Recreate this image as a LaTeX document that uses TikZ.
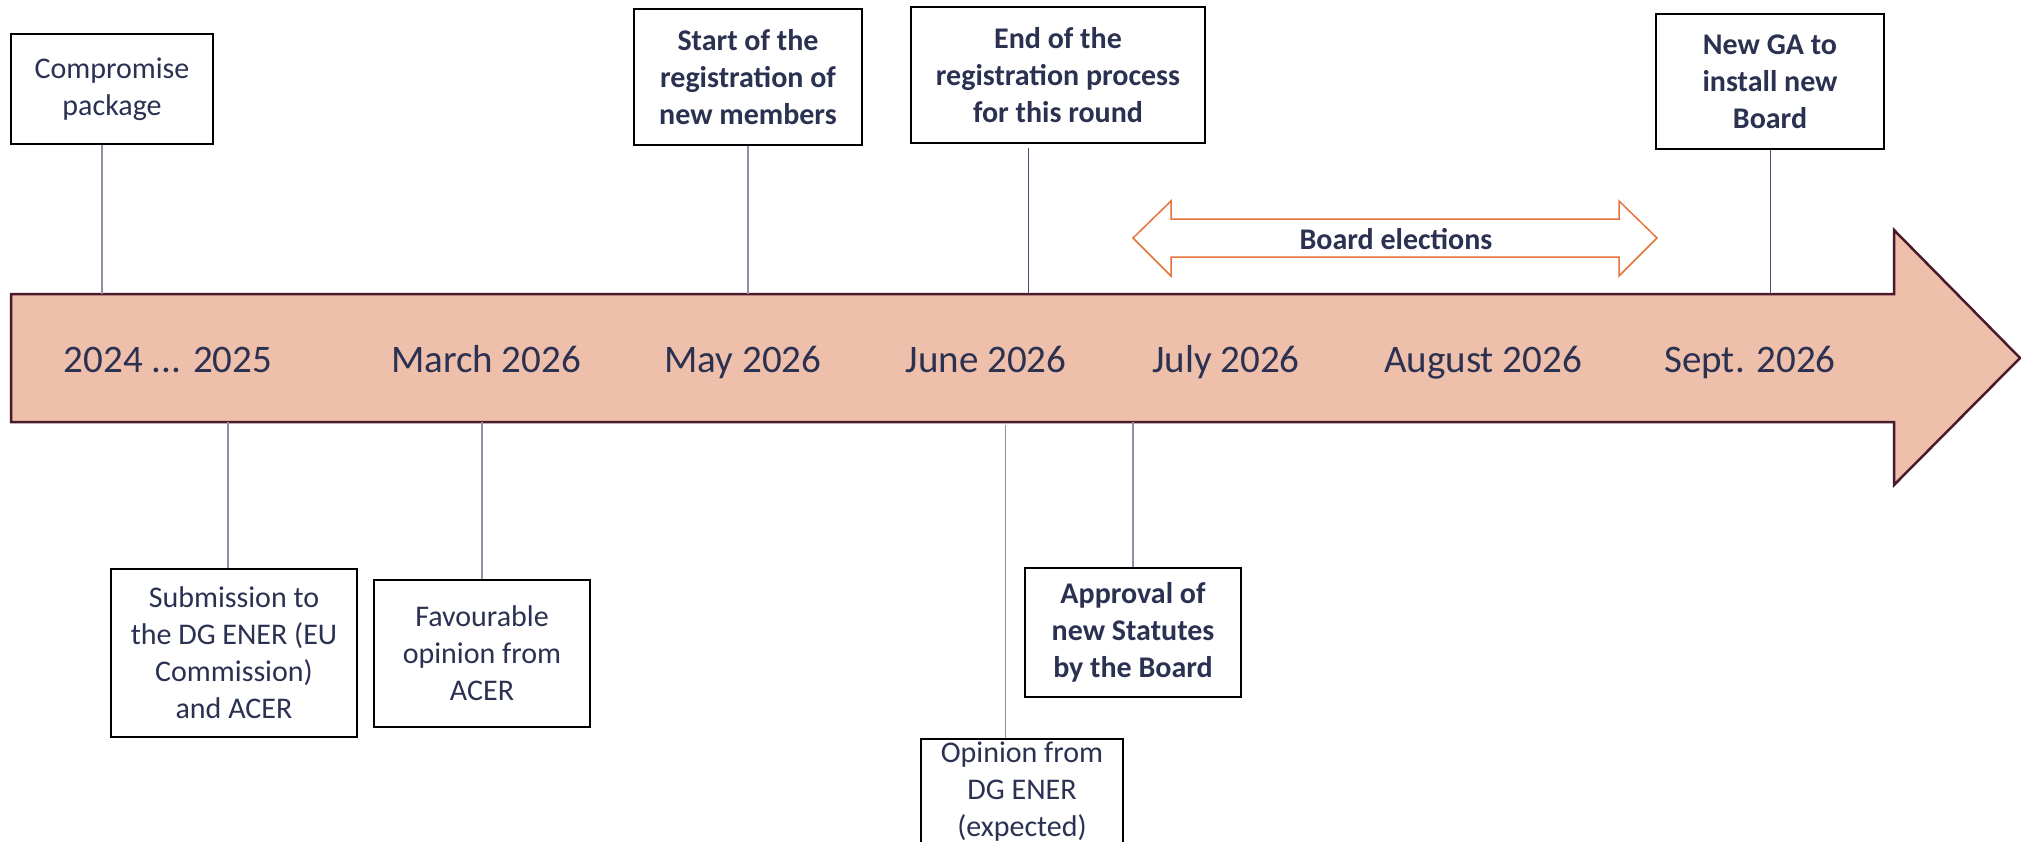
\documentclass[tikz,border=0pt]{standalone}
\usepackage{fontspec}
\setmainfont{Carlito}
\usetikzlibrary{calc}
\definecolor{navy}{HTML}{2B3151}
\definecolor{salmon}{HTML}{EEBFAA}
\definecolor{maroon}{HTML}{4A1A2A}
\definecolor{conngray}{HTML}{8E91A6}
\definecolor{conndark}{HTML}{4A4F70}
\definecolor{orangeline}{HTML}{E5733A}
\begin{document}
\begin{tikzpicture}[x=1pt,y=-1pt,
  evbox/.style={draw=black, line width=2pt, fill=white, inner sep=0pt, align=center, text=navy, font=\fontsize{30}{37}\selectfont},
  evboxb/.style={evbox, font=\fontsize{30}{37}\selectfont\bfseries},
  datelbl/.style={text=navy, font=\fontsize{39}{47}\selectfont, anchor=base, inner sep=0pt},
  conn/.style={draw=conngray, line width=1.5pt},
  conndk/.style={draw=conndark, line width=1pt}]
\useasboundingbox (0,0) rectangle (2021,841);
\clip (0,0) rectangle (2021,841);
% main timeline arrow
\draw[fill=salmon, draw=maroon, line width=2.5pt, line join=miter]
  (11,294) -- (1894,294) -- (1894,230) -- (2020,358) -- (1894,485) -- (1894,422) -- (11,422) -- cycle;
\coordinate (ctop) at (0,294);
\coordinate (cbot) at (0,422);
% board elections double arrow
\draw[draw=orangeline, fill=white, line width=1.5pt]
  (1133,238) -- (1171,201) -- (1171,219) -- (1619,219) -- (1619,201) -- (1657,238)
  -- (1619,276) -- (1619,257) -- (1171,257) -- (1171,276) -- cycle;
\node[text=navy, font=\fontsize{30}{37}\selectfont\bfseries, inner sep=0pt] (board) at (1396,239) {Board elections};
% dates
\node[datelbl] (d1) at (168,372) {2024 ... 2025};
\node[datelbl] (d2) at (486,372) {March 2026};
\node[datelbl] (d3) at (743,372) {May 2026};
\node[datelbl] (d4) at (986,372) {June 2026};
\node[datelbl] (d5) at (1226,372) {July 2026};
\node[datelbl] (d6) at (1483,372) {August 2026};
\node[datelbl] (d7) at (1750,372) {Sept. 2026};
% event boxes
\node[evbox, minimum width=202, minimum height=110] (comp) at (112,89) {Compromise\\package};
\node[evboxb, minimum width=228, minimum height=136] (start) at (748,77) {Start of the\\registration of\\new members};
\node[evboxb, minimum width=294, minimum height=136] (endreg) at (1058,75) {End of the\\registration process\\for this round};
\node[evboxb, minimum width=228, minimum height=135] (newga) at (1770,81.5) {New GA to\\install new\\Board};
\node[evbox, minimum width=246, minimum height=168] (subm) at (234,653) {Submission to\\the DG ENER (EU\\Commission)\\and ACER};
\node[evbox, minimum width=216, minimum height=147] (fav) at (482,653) {Favourable\\opinion from\\ACER};
\node[evboxb, minimum width=216, minimum height=129] (appr) at (1133,632) {Approval of\\new Statutes\\by the Board};
\node[evbox, minimum width=202, minimum height=106] (opin) at (1022,792) {Opinion from\\DG ENER\\(expected)};
% connectors
\coordinate (c1) at ($(comp.south west)!0.45!(comp.south east)$);
\draw[conn] (c1) -- (c1 |- ctop);
\draw[conn] (start.south) -- (start.south |- ctop);
\coordinate (c3) at ($(endreg.south west)!0.40!(endreg.south east)+(0,4)$);
\draw[conndk] (c3) -- (c3 |- ctop);
\draw[conndk] (newga.south) -- (newga.south |- ctop);
\coordinate (c5) at ($(subm.north west)!0.476!(subm.north east)$);
\draw[conn] (c5) -- (c5 |- cbot);
\draw[conn] (fav.north) -- (fav.north |- cbot);
\draw[conn] (appr.north) -- (appr.north |- cbot);
\coordinate (c8) at ($(opin.north west)!0.42!(opin.north east)$);
\draw[conn] (c8) -- ($(c8 |- cbot)+(0,3)$);
\end{tikzpicture}
\end{document}
